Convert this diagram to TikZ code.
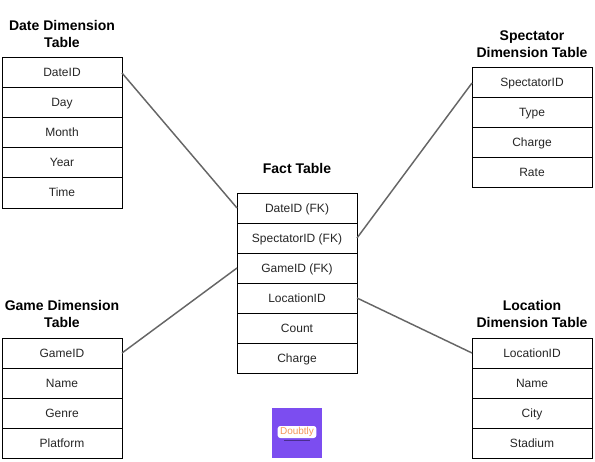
\documentclass[tikz,border=0pt]{standalone}
\usepackage{fontspec}
\setmainfont{Liberation Sans}
\usepackage{xcolor}
\usetikzlibrary{positioning}
\definecolor{mLine}{RGB}{102,102,102}
\definecolor{mLogo}{RGB}{124,77,240}
\definecolor{mOrange}{RGB}{245,150,90}
\tikzset{
rowbox/.style={rectangle,draw=black,fill=white,line width=.75pt,outer sep=0pt,inner sep=0pt,minimum width=90pt,minimum height=22.5pt,text height=8pt,text depth=2pt,align=center,font=\fontsize{9}{11}\selectfont,text=black!85},
headbox/.style={align=center,inner sep=0pt,font=\fontsize{10.5}{12.75}\selectfont\bfseries},
link/.style={draw=mLine,line width=1.1pt}
}
\begin{document}
\begin{tikzpicture}[x=.75pt,y=.75pt,node distance=0pt]
\useasboundingbox (0,0) rectangle (595,461);
% date table
\node[rowbox] (dateid) at (62,388) {DateID};
\node[rowbox,below=of dateid] (day) {Day};
\node[rowbox,below=of day] (month) {Month};
\node[rowbox,below=of month] (year) {Year};
\node[rowbox,below=of year] (time) {Time};
\node[headbox,above=7.5pt of dateid] (datehead) {Date Dimension\\Table};
% spectator table
\node[rowbox] (specid) at (532,378) {SpectatorID};
\node[rowbox,below=of specid] (spectype) {Type};
\node[rowbox,below=of spectype] (speccharge) {Charge};
\node[rowbox,below=of speccharge] (rate) {Rate};
\node[headbox,above=7.5pt of specid] (spechead) {Spectator\\Dimension Table};
% fact table
\node[rowbox] (factdate) at (297,253) {DateID (FK)};
\node[rowbox,below=of factdate] (factspec) {SpectatorID (FK)};
\node[rowbox,below=of factspec] (factgame) {GameID (FK)};
\node[rowbox,below=of factgame] (factloc) {LocationID};
\node[rowbox,below=of factloc] (count) {Count};
\node[rowbox,below=of count] (factcharge) {Charge};
\node[headbox,above=14.5pt of factdate] (facthead) {Fact Table};
% game table
\node[rowbox] (gameid) at (62,108) {GameID};
\node[rowbox,below=of gameid] (gamename) {Name};
\node[rowbox,below=of gamename] (genre) {Genre};
\node[rowbox,below=of genre] (platform) {Platform};
\node[headbox,above=7.5pt of gameid] (gamehead) {Game Dimension\\Table};
% location table
\node[rowbox] (locid) at (532,108) {LocationID};
\node[rowbox,below=of locid] (locname) {Name};
\node[rowbox,below=of locname] (city) {City};
\node[rowbox,below=of city] (stadium) {Stadium};
\node[headbox,above=7.5pt of locid] (lochead) {Location\\Dimension Table};
% links
\draw[link] (dateid.east)--(factdate.west);
\draw[link] (specid.west)--(factspec.east);
\draw[link] (gameid.east)--(factgame.west);
\draw[link] (locid.west)--(factloc.east);
% logo
\node[fill=mLogo,minimum size=37.5pt,inner sep=0pt,outer sep=0pt] (logo) at (297,28) {};
\node[fill=white,rounded corners=2pt,minimum width=29pt,minimum height=9pt,inner sep=0pt,text=mOrange,font=\fontsize{7.5}{7.5}\selectfont] (logotext) at (297,29) {Doubtly};
\node[fill=mLogo!60!black,minimum width=20pt,minimum height=.8pt,inner sep=0pt,below=1pt of logotext] (logosub) {};
\end{tikzpicture}
\end{document}
